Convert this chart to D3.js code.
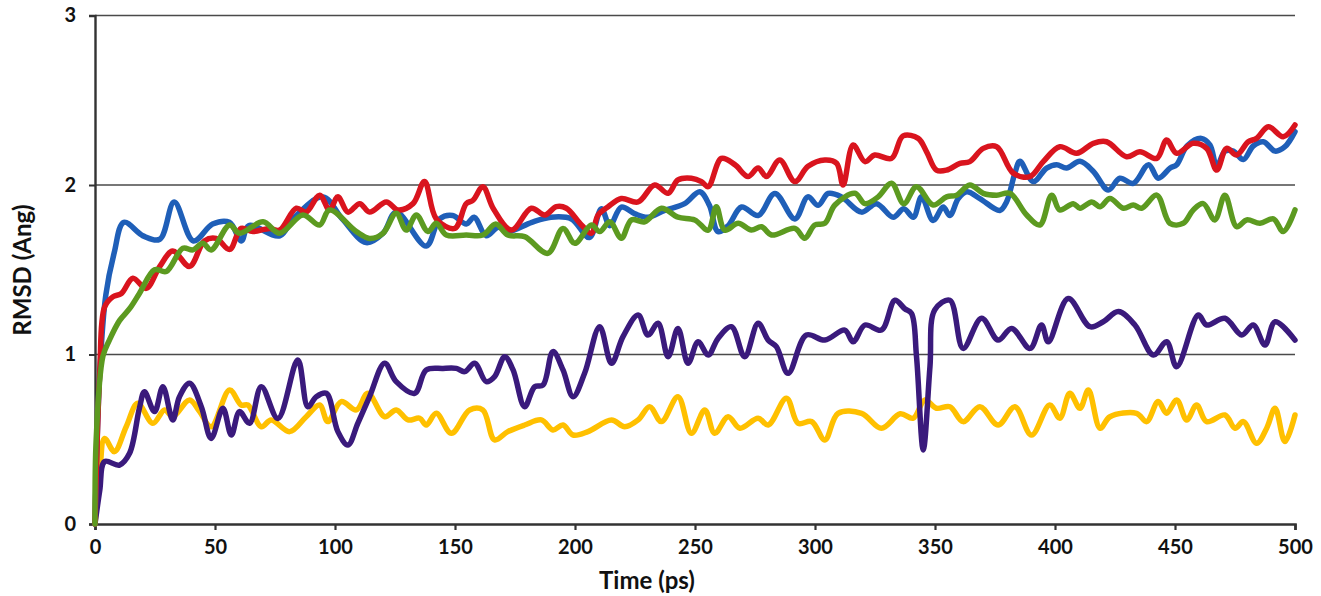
<!DOCTYPE html>
<html>
<head>
<meta charset="utf-8">
<script src="https://cdn.jsdelivr.net/npm/d3@7"></script>
<style>
  html, body { margin: 0; padding: 0; background: #fff; }
  svg { display: block; }
  .tick text { font-family: Lato, "Liberation Sans", sans-serif; font-weight: 700; font-size: 20px; fill: #111; }
  .title { font-family: Lato, "Liberation Sans", sans-serif; font-weight: 700; fill: #111; }
</style>
</head>
<body>
<svg id="chart" width="1321" height="596"></svg>
<script>
// RMSD traces: [time (ps), rmsd (Ang)]
const blueSeries = [[0,0],[2,0.9],[4.5,1.35],[8,1.6],[12,1.78],[20,1.7],[27,1.68],[33,1.9],[41,1.67],[49,1.77],[56,1.78],[61,1.67],[64,1.76],[77,1.7],[82.5,1.8],[95,1.93],[103,1.8],[113,1.66],[120,1.715],[125.5,1.84],[138,1.64],[143.6,1.8],[149,1.82],[154.7,1.77],[158,1.81],[163,1.7],[168,1.75],[172,1.725],[182,1.78],[190,1.81],[198.5,1.8],[206,1.69],[211,1.86],[214.5,1.76],[219.3,1.87],[225,1.83],[230.4,1.81],[237.4,1.85],[245.7,1.89],[252,1.96],[256,1.88],[259.6,1.725],[263.8,1.76],[269.4,1.87],[276.3,1.82],[283.3,1.95],[291.6,1.8],[297,1.93],[301.3,1.88],[305.5,1.95],[311,1.93],[319.4,1.84],[325.6,1.89],[332.6,1.81],[337,1.86],[341,1.81],[344.4,1.93],[349.2,1.79],[353.4,1.87],[356.2,1.82],[359.7,1.92],[363.2,1.96],[368.7,1.92],[377,1.85],[379.8,1.9],[383.3,2.07],[385.4,2.14],[390.9,2.02],[396.5,2.1],[400.7,2.12],[404.8,2.1],[410.4,2.14],[416,2.08],[422.2,1.97],[427,2.04],[432.6,2.01],[439,2.12],[443,2.04],[448,2.1],[450.7,2.12],[455,2.23],[461,2.275],[464.6,2.236],[467.4,2.11],[470.8,2.2],[474.3,2.2],[478.5,2.15],[482.6,2.23],[486.8,2.255],[491.7,2.2],[495.8,2.226],[500,2.315]];

const redSeries = [[0,0],[2,0.9],[4,1.28],[7.4,1.34],[11,1.36],[15.8,1.45],[21.3,1.39],[27,1.52],[32.4,1.61],[39.4,1.52],[45.6,1.67],[50.5,1.685],[56.1,1.62],[60.9,1.744],[65.8,1.725],[72.7,1.744],[76.9,1.734],[83.9,1.863],[88,1.84],[93.6,1.94],[97.7,1.853],[101.2,1.93],[105.4,1.84],[110.3,1.89],[114.4,1.84],[121.4,1.9],[126.2,1.853],[132.5,1.89],[137.3,2.02],[142.2,1.8],[149.9,1.744],[154.7,1.89],[157.5,1.91],[161.6,1.99],[166,1.86],[173.5,1.734],[181.8,1.863],[187.4,1.823],[192.2,1.872],[196.4,1.863],[202.7,1.764],[206.8,1.715],[209.6,1.823],[213.8,1.872],[219.3,1.92],[226.3,1.9],[233.2,2.0],[238.8,1.951],[242.9,2.03],[248.5,2.04],[252.7,2.02],[255.5,1.99],[261,2.157],[266.6,2.12],[272.1,2.05],[276.3,2.1],[279.8,2.05],[285.3,2.147],[291.6,2.02],[297.1,2.11],[304.1,2.147],[309,2.128],[311.7,2.0],[315.9,2.236],[320.8,2.138],[324.9,2.177],[331.9,2.157],[336.7,2.29],[343,2.275],[346.5,2.196],[350.6,2.088],[354.8,2.088],[360.4,2.128],[364.5,2.138],[370.1,2.216],[375.7,2.226],[382.6,2.07],[389.6,2.05],[395.1,2.138],[402,2.226],[409,2.187],[416,2.246],[421.5,2.255],[429.8,2.167],[435.4,2.196],[442.4,2.157],[446.5,2.265],[450.7,2.187],[457.6,2.246],[463.2,2.216],[467.4,2.088],[471.5,2.216],[475.7,2.177],[480.5,2.255],[484,2.275],[488.9,2.344],[495.1,2.285],[500,2.354]];

const greenSeries = [[0,0],[0.5,0.5],[3.3,0.99],[6,1.085],[10.2,1.2],[14.4,1.27],[18.5,1.36],[24.8,1.5],[29.7,1.49],[36.6,1.627],[40.8,1.617],[44.9,1.656],[48.4,1.617],[56.1,1.764],[60.2,1.715],[70,1.783],[76.9,1.715],[86.6,1.823],[93.6,1.764],[97.7,1.853],[108.9,1.725],[114.4,1.685],[120,1.715],[125.5,1.833],[129.7,1.734],[133.9,1.823],[138.7,1.725],[142.2,1.774],[146.4,1.705],[154.7,1.705],[161.6,1.705],[167,1.77],[172,1.705],[179,1.695],[188.7,1.597],[195,1.744],[199.9,1.656],[206.8,1.764],[210.3,1.725],[214.5,1.783],[219.3,1.686],[223.5,1.794],[229,1.783],[236,1.863],[242.9,1.81],[249.9,1.794],[255.5,1.734],[258.9,1.872],[262.4,1.734],[268,1.774],[273.5,1.734],[277.7,1.754],[281.9,1.705],[291.6,1.744],[295.7,1.686],[299.9,1.764],[304.1,1.774],[308.3,1.882],[316.6,1.951],[320.8,1.89],[326.3,1.93],[331.9,2.01],[337,1.89],[342.3,1.99],[349.2,1.882],[354.8,1.93],[359,1.94],[364.5,2.0],[370.1,1.951],[375.7,1.94],[381.2,1.951],[388.2,1.823],[393.7,1.764],[398.6,1.94],[402,1.853],[407.6,1.89],[410.4,1.863],[415.3,1.9],[418.8,1.872],[422.9,1.92],[428.5,1.863],[432.6,1.882],[436.1,1.863],[442.4,1.94],[447.9,1.774],[453.4,1.774],[457.6,1.853],[461.8,1.89],[466.6,1.794],[470.8,1.94],[475.7,1.754],[479.9,1.794],[485.4,1.774],[491,1.8],[495.1,1.725],[500,1.853]];

const purpleSeries = [[0,0],[2,0.2],[4,0.368],[10.2,0.348],[14.4,0.417],[18.5,0.683],[20.6,0.78],[24.8,0.663],[28.3,0.81],[32.4,0.614],[35.2,0.751],[39.4,0.83],[44.3,0.692],[48.4,0.505],[53.3,0.683],[56.8,0.525],[60.2,0.663],[64.4,0.594],[69.3,0.81],[76.2,0.623],[84.5,0.968],[88.7,0.692],[92.2,0.751],[96.4,0.771],[101.2,0.545],[105.4,0.466],[109.5,0.594],[114.4,0.751],[120.7,0.948],[125.5,0.84],[133.2,0.771],[138,0.909],[145,0.918],[150.6,0.918],[154,0.899],[158.2,0.948],[163,0.84],[166.5,0.87],[170.7,0.987],[174.2,0.909],[179,0.692],[183.2,0.81],[186.7,0.82],[190.8,1.017],[195,0.909],[199.2,0.751],[204,0.889],[210.3,1.164],[215.2,0.948],[220,1.105],[226.3,1.233],[230.4,1.115],[234.6,1.184],[238.8,0.987],[242.9,1.154],[247.1,0.948],[251.3,1.075],[255.5,0.997],[259.6,1.095],[265.2,1.164],[270.7,0.987],[276.3,1.184],[280.5,1.085],[283.9,1.046],[288.8,0.889],[296.4,1.115],[304.1,1.085],[312.4,1.144],[315.9,1.075],[320.8,1.174],[327.7,1.144],[333.3,1.32],[337.4,1.27],[340.2,1.243],[342.3,0.987],[345.1,0.437],[347.9,0.928],[349.9,1.263],[356.2,1.32],[361.7,1.036],[369.4,1.214],[376.3,1.085],[381.9,1.154],[389.6,1.036],[394.4,1.174],[397.2,1.075],[405.5,1.33],[414.6,1.164],[420.1,1.193],[426.4,1.253],[433.3,1.174],[441,0.997],[446.5,1.075],[450.7,0.928],[459.7,1.233],[463.2,1.174],[470.8,1.214],[477.8,1.115],[482.6,1.174],[487.5,1.056],[491.7,1.193],[500,1.085]];

const yellowSeries = [[0,0],[2,0.3],[4,0.505],[8.1,0.427],[13,0.574],[17.8,0.712],[24.1,0.594],[29,0.673],[32.4,0.633],[39.4,0.732],[43.6,0.663],[48.4,0.574],[56.1,0.79],[60.9,0.702],[63.7,0.702],[69.3,0.574],[73.4,0.614],[81.1,0.545],[88,0.633],[93.6,0.702],[97,0.604],[102.6,0.722],[108.9,0.673],[113.7,0.771],[120.7,0.633],[125.5,0.673],[130.4,0.614],[135.3,0.624],[138,0.584],[142.2,0.653],[148.5,0.535],[156.1,0.673],[161.6,0.673],[166.5,0.496],[172,0.545],[179,0.584],[186,0.614],[190.8,0.555],[195,0.584],[199.2,0.525],[205.4,0.545],[215.2,0.614],[220.7,0.574],[226.3,0.614],[231.1,0.692],[236,0.604],[242.9,0.751],[248.5,0.535],[254.1,0.673],[258.2,0.535],[263.8,0.633],[268.7,0.565],[276.3,0.624],[280.5,0.584],[288.1,0.742],[293,0.594],[298.6,0.604],[304.1,0.496],[309.6,0.653],[319.4,0.653],[327.7,0.565],[335.5,0.65],[340.9,0.624],[345.8,0.732],[350.6,0.683],[356.2,0.692],[361.7,0.604],[368.7,0.692],[376.3,0.584],[383.3,0.692],[390.2,0.525],[397.8,0.702],[402,0.624],[406.2,0.771],[410.4,0.683],[413.9,0.79],[418.8,0.565],[422.9,0.633],[434,0.653],[438.2,0.604],[443,0.722],[446.5,0.653],[450.7,0.732],[454.9,0.614],[459,0.702],[463.2,0.604],[470.8,0.643],[475,0.565],[478.5,0.604],[484,0.476],[488.2,0.565],[491.7,0.683],[495.8,0.486],[500,0.643]];

const xTicks = [0,50,100,150,200,250,300,350,400,450,500];
const yTicks = [0,1,2,3];
const gridValues = [1,2,3];

// layout
const svg = d3.select('#chart');
const plotLeft = 95, plotRight = 1295, plotTop = 15.5, plotBottom = 524;

const x = d3.scaleLinear().domain([0,500]).range([plotLeft, plotRight]);
const y = d3.scaleLinear().domain([0,3]).range([plotBottom, plotTop]);

// gridlines
svg.append('g')
  .selectAll('line')
  .data(gridValues)
  .join('line')
  .attr('x1', plotLeft).attr('x2', plotRight)
  .attr('y1', d => y(d)).attr('y2', d => y(d))
  .attr('stroke', '#4a4a4a')
  .attr('stroke-width', 1.4);

// axes
const yAxis = svg.append('g')
  .attr('transform', `translate(${plotLeft},0)`)
  .call(d3.axisLeft(y).tickValues(yTicks).tickFormat(d3.format('d')).tickSize(6).tickPadding(13));
yAxis.select('.domain').attr('stroke', '#333').attr('stroke-width', 2.4);
yAxis.selectAll('.tick line').attr('stroke', '#333').attr('stroke-width', 2);

const xAxis = svg.append('g')
  .attr('transform', `translate(0,${plotBottom})`)
  .call(d3.axisBottom(x).tickValues(xTicks).tickFormat(d3.format('d')).tickSize(6).tickPadding(10));
xAxis.select('.domain').attr('stroke', '#333').attr('stroke-width', 2.6);
xAxis.selectAll('.tick line').attr('stroke', '#333').attr('stroke-width', 2.2);

// titles
svg.append('text')
  .attr('class', 'title')
  .attr('x', 647).attr('y', 589)
  .attr('text-anchor', 'middle')
  .attr('font-size', 24)
  .text('Time (ps)');

svg.append('text')
  .attr('class', 'title')
  .attr('transform', 'translate(31,270) rotate(-90)')
  .attr('text-anchor', 'middle')
  .attr('font-size', 24)
  .text('RMSD (Ang)');

// lines
const line = d3.line()
  .x(d => x(d[0]))
  .y(d => y(d[1]))
  .curve(d3.curveCatmullRom.alpha(0.5));

const series = [
  { data: yellowSeries, color: '#ffc000' },
  { data: purpleSeries, color: '#3a1a7c' },
  { data: blueSeries, color: '#1f5fb8' },
  { data: redSeries, color: '#d9141e' },
  { data: greenSeries, color: '#5c9a20' }
];

svg.append('g')
  .selectAll('path')
  .data(series)
  .join('path')
  .attr('d', d => line(d.data))
  .attr('fill', 'none')
  .attr('stroke', d => d.color)
  .attr('stroke-width', 5.5)
  .attr('stroke-linejoin', 'round')
  .attr('stroke-linecap', 'round');
</script>
</body>
</html>
